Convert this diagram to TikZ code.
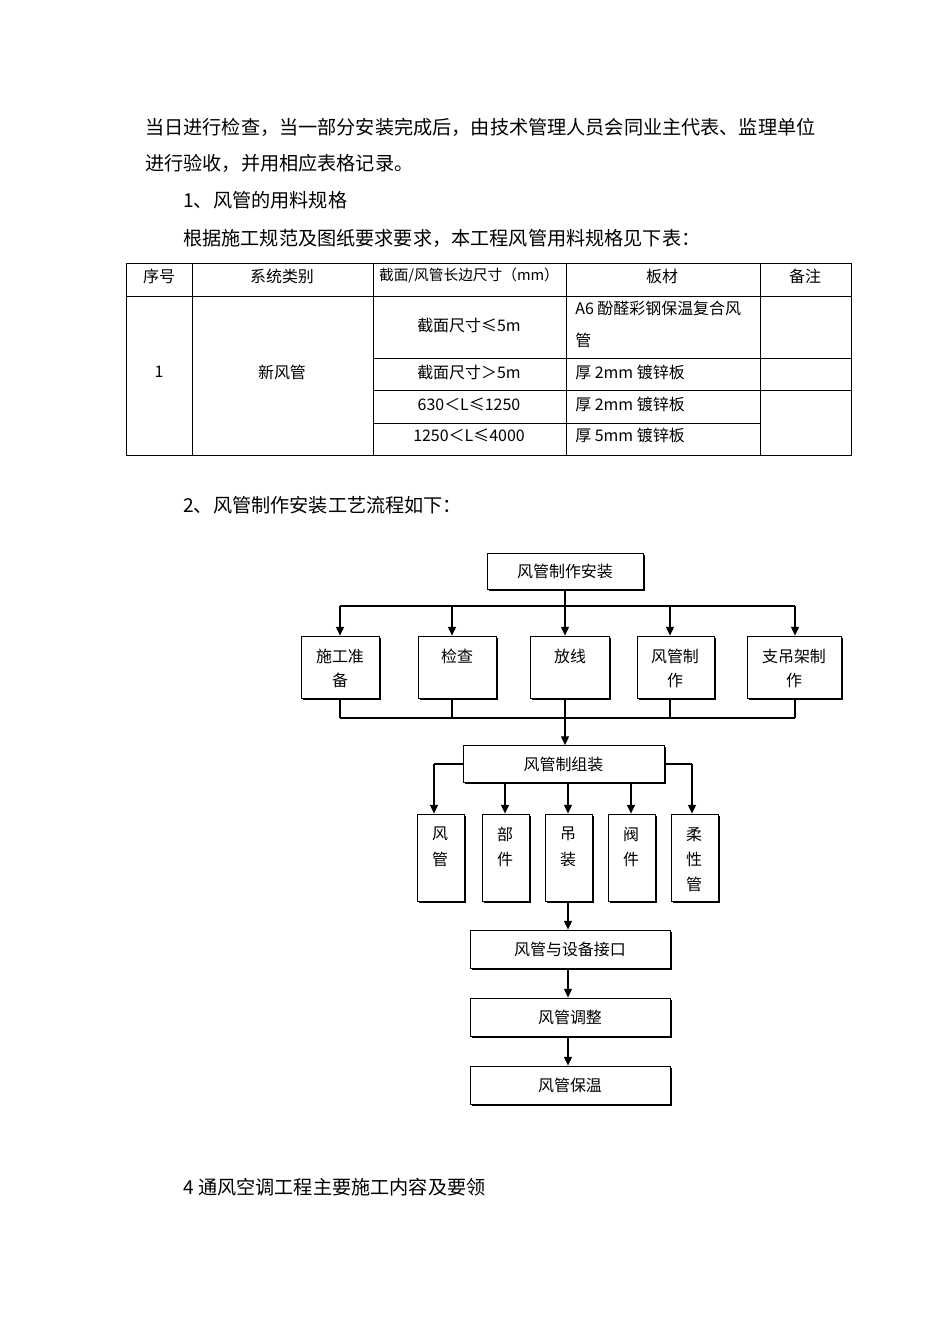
\documentclass[tikz,border=0pt]{standalone}
\usepackage{fontspec}
\setmainfont{Noto Sans CJK SC}
\usetikzlibrary{arrows.meta,shadows}
\begin{document}
\begin{tikzpicture}[x=0.62661pt,y=-0.62661pt,
 body/.style={font=\fontsize{12pt}{14pt}\selectfont, anchor=west, inner sep=0},
 tcell/.style={font=\fontsize{10pt}{12pt}\selectfont, inner sep=0},
 tleft/.style={tcell, anchor=west},
 tline/.style={line width=0.6pt},
 bx/.style 2 args={minimum width=#1*0.62661pt, minimum height=#2*0.62661pt},
 fbox/.style={draw, line width=0.5pt, fill=white, inner sep=0,
   drop shadow={shadow xshift=1pt, shadow yshift=-1pt, opacity=1, fill=black}},
 ftxt/.style={font=\fontsize{10pt}{15pt}\selectfont, inner sep=0, align=center},
 vtxt/.style={font=\fontsize{10pt}{15.7pt}\selectfont, inner sep=0, align=center},
 conn/.style={line width=0.8pt},
 arr/.style={conn, -{Triangle[length=5.5pt,width=5pt]}},
]
\fill[white] (0,0) rectangle (950,1344);
\useasboundingbox (0,0) rectangle (950,1344);

% body text
\node[body] (p1) at (145,127) {当日进行检查，当一部分安装完成后，由技术管理人员会同业主代表、监理单位};
\node[body] (p2) at (145,163) {进行验收，并用相应表格记录。};
\node[body] (p3) at (183,200) {1、风管的用料规格};
\node[body] (p4) at (183,238) {根据施工规范及图纸要求要求，本工程风管用料规格见下表：};

% table
\draw[tline] (126,263) rectangle (851,455);
\foreach \x in {192,373,566,760} \draw[tline] (\x,263) -- (\x,455);
\draw[tline] (126,296) -- (851,296);
\draw[tline] (373,358) -- (851,358);
\draw[tline] (373,390) -- (851,390);
\draw[tline] (373,423) -- (760,423);

\node[tcell] (h1) at (159,276) {序号};
\node[tcell] (h2) at (282,276) {系统类别};
\node[tcell,font=\fontsize{9.2pt}{11pt}\selectfont] (h3) at (469,276) {截面/风管长边尺寸（mm）};
\node[tcell] (h4) at (662,276) {板材};
\node[tcell] (h5) at (805,276) {备注};
\node[tcell] (r1) at (159,372) {1};
\node[tcell] (r2) at (282,372) {新风管};
\node[tcell] (s1) at (469,325) {截面尺寸≤5m};
\node[tcell] (s2) at (469,372) {截面尺寸＞5m};
\node[tcell] (s3) at (469,404) {630＜L≤1250};
\node[tcell] (s4) at (469,435) {1250＜L≤4000};
\node[tleft] (m1a) at (575,308) {A6 酚醛彩钢保温复合风};
\node[tleft] (m1b) at (575,340) {管};
\node[tleft] (m2) at (575,372) {厚 2mm 镀锌板};
\node[tleft] (m3) at (575,404) {厚 2mm 镀锌板};
\node[tleft] (m4) at (575,435) {厚 5mm 镀锌板};

\node[body] (p5) at (183,505) {2、风管制作安装工艺流程如下：};

% flowchart
\node[fbox,bx={156}{36},ftxt] (top) at (565,571) {风管制作安装};

\node[fbox,bx={78}{62}] (a1) at (340,667) {};
\node[fbox,bx={78}{62}] (a2) at (457,667) {};
\node[fbox,bx={79}{62}] (a3) at (569.5,667) {};
\node[fbox,bx={77}{62}] (a4) at (675.5,667) {};
\node[fbox,bx={94}{62}] (a5) at (794,667) {};
\node[ftxt,anchor=north] (a1t) at (340,649) {施工准\\备};
\node[ftxt,anchor=north] (a2t) at (457,649) {检查};
\node[ftxt,anchor=north] (a3t) at (570,649) {放线};
\node[ftxt,anchor=north] (a4t) at (675,649) {风管制\\作};
\node[ftxt,anchor=north] (a5t) at (794,649) {支吊架制\\作};

\coordinate (c1) at (340,606);
\coordinate (c2) at (452,606);
\coordinate (c3) at (565,606);
\coordinate (c4) at (670,606);
\coordinate (c5) at (795,606);
\coordinate (d1) at (340,718);
\coordinate (d2) at (452,718);
\coordinate (d3) at (565,718);
\coordinate (d4) at (670,718);
\coordinate (d5) at (795,718);

\draw[conn] (top.south) -- (c3);
\draw[conn] (c1) -- (c5);
\draw[arr] (c1) -- (c1 |- a1.north);
\draw[arr] (c2) -- (c2 |- a2.north);
\draw[arr] (c3) -- (c3 |- a3.north);
\draw[arr] (c4) -- (c4 |- a4.north);
\draw[arr] (c5) -- (c5 |- a5.north);
\draw[conn] (d1 |- a1.south) -- (d1);
\draw[conn] (d2 |- a2.south) -- (d2);
\draw[conn] (d3 |- a3.south) -- (d3);
\draw[conn] (d4 |- a4.south) -- (d4);
\draw[conn] (d5 |- a5.south) -- (d5);
\draw[conn] (d1) -- (d5);

\node[fbox,bx={201}{37},ftxt] (asm) at (563.5,764) {风管制组装};
\draw[arr] (d3) -- (d3 |- asm.north);

\node[fbox,bx={47}{87}] (b1) at (440.5,857.5) {};
\node[fbox,bx={47}{87}] (b2) at (505.5,857.5) {};
\node[fbox,bx={47}{87}] (b3) at (568.5,857.5) {};
\node[fbox,bx={47}{87}] (b4) at (631.5,857.5) {};
\node[fbox,bx={47}{87}] (b5) at (694.5,857.5) {};
\node[vtxt,anchor=north] (b1t) at (440,827) {风\\管};
\node[vtxt,anchor=north] (b2t) at (505,827) {部\\件};
\node[vtxt,anchor=north] (b3t) at (568,827) {吊\\装};
\node[vtxt,anchor=north] (b4t) at (631,827) {阀\\件};
\node[vtxt,anchor=north] (b5t) at (694,827) {柔\\性\\管};

\coordinate (e1) at (434,764);
\coordinate (e5) at (692,764);
\draw[conn] (asm.west |- e1) -- (e1);
\draw[arr] (e1) -- (e1 |- b1.north);
\draw[conn] (asm.east |- e5) -- (e5);
\draw[arr] (e5) -- (e5 |- b5.north);
\coordinate (f2) at (505,782);
\coordinate (f3) at (568,782);
\coordinate (f4) at (631,782);
\draw[arr] (f2 |- asm.south) -- (f2 |- b2.north);
\draw[arr] (f3 |- asm.south) -- (f3 |- b3.north);
\draw[arr] (f4 |- asm.south) -- (f4 |- b4.north);

\node[fbox,bx={200}{38},ftxt] (g1) at (570,949) {风管与设备接口};
\node[fbox,bx={200}{38},ftxt] (g2) at (570,1017) {风管调整};
\node[fbox,bx={200}{38},ftxt] (g3) at (570,1085) {风管保温};
\coordinate (h0) at (568,901);
\draw[arr] (h0 |- b3.south) -- (h0 |- g1.north);
\draw[arr] (h0 |- g1.south) -- (h0 |- g2.north);
\draw[arr] (h0 |- g2.south) -- (h0 |- g3.north);

\node[body] (p6) at (183,1187) {4 通风空调工程主要施工内容及要领};
\end{tikzpicture}
\end{document}
